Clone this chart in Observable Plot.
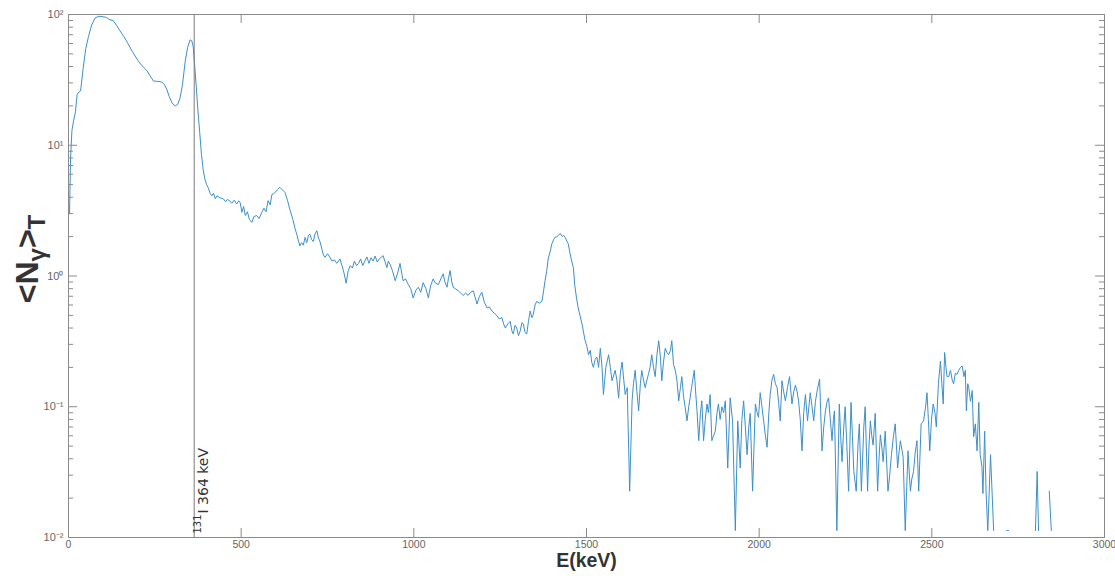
<!DOCTYPE html>
<html><head><meta charset="utf-8">
<script src="https://cdn.jsdelivr.net/npm/d3@7"></script>
<script src="https://cdn.jsdelivr.net/npm/@observablehq/plot@0.6"></script>
<style>body{margin:0;background:#fff;} svg{display:block;}</style>
</head><body><div id="chart"></div>
<script>
// Spectrum: energy (keV) and mean counts; null = empty bin (not drawn on log axis)
const energy = [
3,6,10,15,20,25,30,35,42,50,58,67,77,88,100,110,120,129,140,149,160,169,185,201,213,226,236,246,258,270,278,284,292,300,309,316,323,330,338,345,352,357,361,365,370,375,380,385,390,395,400,405,410,415,
420,425,430,440,448,455,460,467,473,480,487,493,497,502,507,512,518,524,531,537,545,552,560,566,572,578,584,589,593,600,606,612,618,627,634,642,650,656,661,666,670,675,680,685,690,695,699,704,709,714,719,724,728,734,738,743,750,757,763,770,777,786,
792,798,804,810,816,822,828,834,840,846,852,858,864,870,876,882,888,894,900,
906,911,916,922,926,931,938,946,953,960,965,969,976,984,991,998,1006,1013,1020,1027,1035,1042,1049,1056,1063,1071,1078,1085,1090,1096,1100,1105,1110,1114,1120,1129,1136,1143,1150,1157,1164,1172,1178,1183,1190,1197,1204,1212,1219,1226,1233,1240,1247,1255,1260,1265,1272,1279,1284,1288,1293,1298,1303,1308,1313,1317,1322,1327,1332,1337,1342,1346,1351,1356,1363,1371,1376,1380,1385,1389,1395,1400,1405,1409,1414,1419,1424,1430,1434,1438,1443,1447,1452,1457,1462,1466,1471,1476,1481,
1487,1496,1501,1506,1511,1515,1520,1525,1530,1535,1540,1545,1549,1556,1564,1569,1574,1583,1588,1593,1598,1603,1608,1612,1618,1625,1632,1636,1641,1646,1651,1656,1660,1665,1670,1675,1680,1684,1689,1694,1699,1704,1709,1714,1718,1723,1728,1733,1738,1743,1747,1752,1757,1762,1767,1772,1776,1781,1786,1791,1796,1800,1806,1812,1816,1820,1825,1830,1834,1839,1844,1849,1853,1858,1863,1868,1873,1878,1882,1887,1892,1897,1902,1909,1916,1923,1931,1938,1945,1950,1955,1960,1965,1970,1974,1981,1989,1994,1998,
2003,2008,2013,2018,2023,2028,2032,2037,2042,2047,2052,2056,2061,2066,2071,2076,2082,2088,2095,2100,2105,2110,2114,2119,2124,2129,2134,2140,2144,2148,2153,2158,2163,2168,2175,2182,2187,2192,2197,2201,2206,2211,2215,2218,2225,2232,2236,2240,2245,2249,2254,2259,2266,2270,2274,2281,2286,2290,2296,2303,2307,2314,2318,2322,2326,2330,2336,2343,2347,2351,2355,2359,2365,2373,2378,2383,2389,2394,2401,2405,2409,2417,2423,2431,2435,2438,2442,2447,2452,2457,2462,2469,2476,2482,2486,2490,2494,2499,2504,2509,2513,2519,2525,2529,2533,2537,2541,2544,2549,2554,2559,2563,2568,2573,2578,2583,2588,2593,2597,2600,2604,2607,2612,2617,2621,2626,2631,2636,2640,2645,2648,2653,2657,2662,2670,2679,2684,
2712,2717,2722,2727,
2796,2800,2805,2809,2814,
2836,2840,2846,2851
];
const counts = [
3.0,8.0,13,15.5,18,24.5,25.5,26,38,55,68,83,94,97,96,95,91,90,82,75,68,62,52,44.5,40.5,37.5,34,31,30.8,30.5,29,27,23.5,21,20,20.5,23,29,44,56,64,63,57,42,28,18,12.5,8.5,6.5,5.5,5.0,4.7,4.3,4.1,
4.3,3.9,4.1,3.95,3.9,3.7,3.85,3.75,3.6,3.8,3.55,3.75,3.66,3.07,3.4,2.9,3.1,2.7,2.57,2.85,2.9,2.75,3.07,3.3,3.1,3.77,3.5,4.2,4.24,4.4,4.6,4.77,4.6,4.35,3.8,3.16,2.7,2.3,2.09,1.85,1.70,1.8,1.72,1.97,1.8,2.05,2.09,1.9,1.84,2.1,2.22,1.95,1.84,1.6,1.45,1.39,1.48,1.39,1.3,1.33,1.25,1.35,
1.2,1.05,0.88,1.1,1.2,1.15,1.3,1.2,1.25,1.35,1.2,1.3,1.4,1.25,1.38,1.3,1.42,1.28,1.35,
1.4,1.43,1.3,1.16,1.3,1.23,1.1,0.92,1.05,1.25,1.05,0.92,0.95,0.86,0.8,0.68,0.78,0.82,0.75,0.89,0.8,0.68,0.85,0.95,0.88,0.86,0.95,1.04,0.9,0.82,0.95,1.1,0.9,0.82,0.8,0.77,0.74,0.71,0.74,0.71,0.75,0.77,0.68,0.61,0.7,0.75,0.63,0.57,0.58,0.54,0.52,0.50,0.47,0.48,0.43,0.40,0.43,0.45,0.38,0.36,0.42,0.40,0.35,0.38,0.44,0.43,0.37,0.36,0.45,0.54,0.48,0.51,0.6,0.64,0.62,0.64,0.78,0.92,1.1,1.35,1.55,1.77,1.9,1.98,2.0,2.05,2.12,2.0,2.05,1.98,1.85,1.77,1.5,1.3,1.16,0.85,0.68,0.57,0.5,
0.43,0.32,0.29,0.25,0.27,0.22,0.20,0.23,0.24,0.2,0.28,0.2,0.124,0.2,0.25,0.2,0.158,0.19,0.16,0.117,0.18,0.22,0.16,0.124,0.14,0.0226,0.111,0.15,0.19,0.13,0.093,0.15,0.19,0.16,0.14,0.16,0.18,0.2,0.25,0.2,0.17,0.25,0.32,0.24,0.158,0.22,0.28,0.26,0.25,0.27,0.32,0.21,0.19,0.158,0.111,0.14,0.17,0.12,0.098,0.078,0.1,0.117,0.15,0.19,0.13,0.093,0.055,0.09,0.111,0.055,0.08,0.105,0.09,0.124,0.055,0.06,0.065,0.09,0.105,0.08,0.1,0.09,0.111,0.034,0.117,0.078,0.0113,0.078,0.034,0.08,0.111,0.07,0.043,0.07,0.089,0.0226,0.105,0.09,0.083,
0.128,0.1,0.078,0.06,0.049,0.09,0.124,0.16,0.177,0.15,0.14,0.11,0.078,0.158,0.13,0.111,0.14,0.17,0.105,0.13,0.146,0.13,0.111,0.08,0.046,0.09,0.124,0.078,0.1,0.128,0.1,0.078,0.11,0.133,0.163,0.046,0.07,0.093,0.11,0.117,0.08,0.055,0.08,0.093,0.0113,0.105,0.06,0.038,0.07,0.1,0.05,0.0226,0.108,0.06,0.032,0.0226,0.05,0.074,0.0226,0.07,0.1,0.0226,0.05,0.078,0.06,0.051,0.089,0.0226,0.04,0.061,0.05,0.038,0.065,0.0226,0.03,0.043,0.06,0.074,0.034,0.045,0.055,0.041,0.0113,0.046,0.03,0.0226,0.028,0.032,0.045,0.055,0.0226,0.074,0.078,0.1,0.128,0.08,0.046,0.08,0.105,0.09,0.07,0.15,0.224,0.15,0.105,0.26,0.2,0.17,0.17,0.19,0.16,0.15,0.18,0.177,0.19,0.2,0.205,0.17,0.19,0.093,0.15,0.14,0.11,0.133,0.059,0.074,0.046,0.108,0.043,0.035,0.0217,0.065,0.0226,0.0113,0.043,0.0113,null,
null,0.0113,0.0113,null,
null,0.0113,0.032,0.0113,null,
null,0.0226,0.0113,null
];
const xTicks = [0, 500, 1000, 1500, 2000, 2500, 3000];
const yTicks = [0.01, 0.1, 1, 10, 100];
const yTickLabels = ["10⁻²", "10⁻¹", "10⁰", "10¹", "10²"];
const yMinorTicks = [0.02,0.03,0.04,0.05,0.06,0.07,0.08,0.09, 0.2,0.3,0.4,0.5,0.6,0.7,0.8,0.9, 2,3,4,5,6,7,8,9, 20,30,40,50,60,70,80,90];
const markerEnergy = [364];
const markerIsotope = ["131"];
const markerLabel = ["I 364 keV"];

const spectrum = energy.map((e, i) => ({energy: e, counts: counts[i]}));
const markers = markerEnergy.map((e, i) => ({energy: e, iso: markerIsotope[i], label: markerLabel[i]}));

const W = 1115, H = 576, mt = 14, mr = 11, mb = 39, ml = 68;
const fw = W - ml - mr, fh = H - mt - mb;
const axisColor = "#8a8a8a";
const lineColor = "#3d8fc8";

const chart = Plot.plot({
  width: W, height: H,
  marginTop: mt, marginRight: mr, marginBottom: mb, marginLeft: ml,
  style: {fontFamily: "'Liberation Sans', Arial, sans-serif", background: "white"},
  x: {domain: [0, 3000]},
  y: {type: "log", domain: [0.01, 100]},
  marks: [
    Plot.line(spectrum, {x: "energy", y: "counts", stroke: lineColor, strokeWidth: 1, clip: true}),
    Plot.ruleX(markers, {x: "energy", stroke: "#7a7a7a", strokeWidth: 1}),
    Plot.text(markers, {x: "energy", text: "iso", frameAnchor: "bottom", rotate: -90, textAnchor: "start", dx: 7, dy: -4, fontSize: 10, fontFamily: "DejaVu Sans", fill: "#333"}),
    Plot.text(markers, {x: "energy", text: "label", frameAnchor: "bottom", rotate: -90, textAnchor: "start", dx: 14, dy: -24, fontSize: 14, fontFamily: "DejaVu Sans", fill: "#333"}),
    Plot.ruleX(xTicks, {stroke: axisColor, insetTop: fh - 9}),
    Plot.ruleX(xTicks, {stroke: axisColor, insetBottom: fh - 9}),
    Plot.ruleY(yTicks, {stroke: axisColor, insetRight: fw - 9}),
    Plot.ruleY(yTicks, {stroke: axisColor, insetLeft: fw - 9}),
    Plot.ruleY(yMinorTicks, {stroke: axisColor, insetRight: fw - 5}),
    Plot.ruleY(yMinorTicks, {stroke: axisColor, insetLeft: fw - 5}),
    Plot.frame({stroke: axisColor}),
    Plot.axisX(xTicks, {tickSize: 0, tickPadding: 3, fontSize: 10.5, fill: "#666", label: null, tickFormat: d => String(d)}),
    Plot.axisY(yTicks, {tickSize: 0, tickPadding: 5, fontSize: 11, fill: "#666", label: null,
      tickFormat: d => yTickLabels[yTicks.indexOf(d)]}),
    Plot.text(["E(keV)"], {text: d => d, frameAnchor: "bottom", dy: 29.5, fontSize: 19.5, fontWeight: "bold", fill: "#333"})
  ]
});

const svg = d3.select(chart);
const yl = svg.append("text")
  .attr("transform", "translate(38,259) rotate(-90)")
  .attr("text-anchor", "middle")
  .attr("font-family", "'Liberation Sans', Arial, sans-serif")
  .attr("font-weight", "bold")
  .attr("font-size", 32)
  .attr("fill", "#333");
yl.append("tspan").text("<N");
yl.append("tspan").attr("dy", 7).attr("font-size", 24).text("γ");
yl.append("tspan").attr("dy", -7).text(">");
yl.append("tspan").attr("dy", 7).attr("font-size", 24).text("T");

document.getElementById("chart").appendChild(chart);
</script>
</body></html>
